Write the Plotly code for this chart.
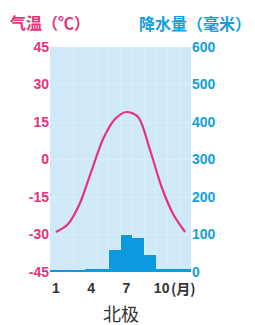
import plotly.graph_objects as go

months = list(range(1, 13))
temperature = [-29, -26, -18, -5, 8, 16, 19, 17, 4, -11, -22, -29]
precipitation = [6, 6, 6, 7, 9, 60, 100, 92, 45, 8, 7, 7]
x_tickvals = [1, 4, 7, 10]
x_ticktext = ["1", "4", "7", "10"]
month_edges = [m + 0.5 for m in range(0, 13)]
temp_ticks = [-45, -30, -15, 0, 15, 30, 45]
temp_ticktext = ["-45", "-30", "-15", "0", "15", "30", "45"]
prec_ticks = [0, 100, 200, 300, 400, 500, 600]

PINK = "#e5337b"
BLUE = "#139fdc"
FONT = "Liberation Sans"
CJK = "Noto Sans CJK SC"

fig = go.Figure()
fig.add_trace(go.Bar(x=months, y=precipitation, marker=dict(color="#0b9ae0", line=dict(width=0)),
                     yaxis="y", showlegend=False))
fig.add_trace(go.Scatter(x=months, y=temperature, mode="lines",
                         line=dict(color=PINK, width=2.2, shape="spline", smoothing=0.8),
                         yaxis="y2", showlegend=False))

# page body has an 8px margin: figure is offset by 8px
fig.update_layout(
    width=247, height=317,
    margin=dict(l=42, r=64, t=39, b=53),
    paper_bgcolor="white",
    plot_bgcolor="#cfe9f9",
    bargap=0,
    xaxis=dict(range=[0.5, 12.5], tickvals=x_tickvals, ticktext=x_ticktext, showgrid=False, automargin=False,
               ticklabelstandoff=6,
               minor=dict(tickvals=month_edges, showgrid=True, gridcolor="#d9eefb", gridwidth=1, ticks=""),
               tickfont=dict(family=FONT, size=14, color="#333333", weight="bold"), ticks="", zeroline=False),
    yaxis=dict(range=[0, 600], tickvals=prec_ticks, side="right", showgrid=True, gridcolor="#daeefb", gridwidth=1,
               automargin=False,
               tickfont=dict(family=FONT, size=14, color=BLUE, weight="bold"), ticks="", zeroline=False),
    yaxis2=dict(range=[-45, 45], tickvals=temp_ticks, ticktext=temp_ticktext, side="left", overlaying="y",
                showgrid=False, automargin=False,
                tickfont=dict(family=FONT, size=14, color=PINK, weight="bold"), ticks="", zeroline=False),
    annotations=[
        dict(text="气温（℃）", xref="paper", yref="paper", x=0, xshift=-42, y=1.0, yshift=25,
             xanchor="left", yanchor="middle",
             showarrow=False, font=dict(family=CJK, size=16, color=PINK, weight="bold")),
        dict(text="降水量（毫米）", xref="paper", yref="paper", x=1, xshift=62, y=1.0, yshift=24,
             xanchor="right", yanchor="middle",
             showarrow=False, font=dict(family=CJK, size=16, color=BLUE, weight="bold")),
        dict(text="(月)", xref="x", yref="paper", x=10.6, xshift=0, y=0, yshift=-16,
             xanchor="left", yanchor="middle",
             showarrow=False, font=dict(family=CJK, size=14, color="#333333", weight="bold")),
        dict(text="北极", xref="paper", yref="paper", x=0.5, y=0, yshift=-41, xanchor="center", yanchor="middle",
             showarrow=False, font=dict(family=CJK, size=18, color="#333333")),
    ],
)

fig.write_html("out.html")
